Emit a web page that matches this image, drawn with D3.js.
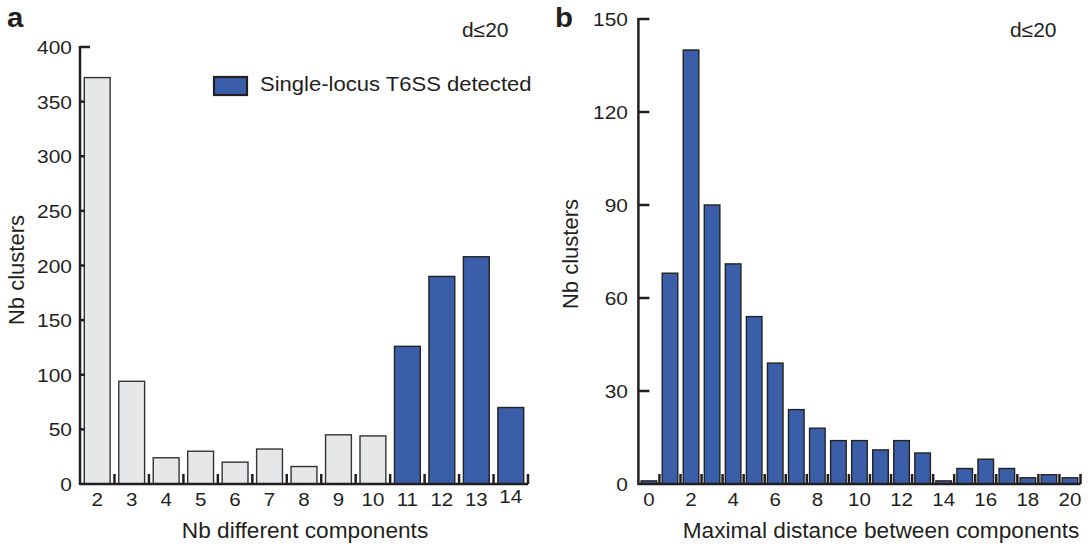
<!DOCTYPE html>
<html><head><meta charset="utf-8">
<script src="https://cdn.jsdelivr.net/npm/d3@7"></script>
<style>
html,body{margin:0;padding:0;background:#fff;}
text{font-family:"Liberation Sans",Arial,Helvetica,sans-serif;fill:#231f20;}
</style></head>
<body>
<svg id="chart" width="1090" height="544"></svg>
<script>
// ---- data ----
const categoriesA = ["2","3","4","5","6","7","8","9","10","11","12","13","14"];
const valuesA = [372, 94, 24, 30, 20, 32, 16, 45, 44, 126, 190, 208, 70];
const detectedA = [false,false,false,false,false,false,false,false,false,true,true,true,true];
const yTicksA = [0,50,100,150,200,250,300,350,400];

const categoriesB = ["0","1","2","3","4","5","6","7","8","9","10","11","12","13","14","15","16","17","18","19","20"];
const valuesB = [1, 68, 140, 90, 71, 54, 39, 24, 18, 14, 14, 11, 14, 10, 1, 5, 8, 5, 2, 3, 2];
const yTicksB = [0,30,60,90,120,150];
const xTickLabelsB = ["0","2","4","6","8","10","12","14","16","18","20"];

const legendLabel = "Single-locus T6SS detected";
const dLabel = "d\u226420";

// ---- style ----
const BLUE = "#3b5ea8", GRAY = "#e6e7e8", INK = "#231f20";
const svg = d3.select("#chart");

function txt(g, x, y, s, size, anchor, sx, weight) {
  return g.append("text")
    .attr("transform", `translate(${x},${y}) scale(${sx||1},1)`)
    .attr("text-anchor", anchor || "start")
    .attr("font-size", size)
    .attr("font-weight", weight || "normal")
    .text(s);
}

function panel(opts) {
  const g = svg.append("g");
  const x = d3.scaleBand().domain(opts.cats).range(opts.xr)
    .paddingInner(opts.pi).paddingOuter(opts.po);
  const y = d3.scaleLinear().domain([0, opts.ymax]).range(opts.yr);
  const step = x.step(), bw = x.bandwidth();

  // bars
  g.selectAll("rect.bar").data(opts.cats).join("rect")
    .attr("class","bar")
    .attr("x", d => x(d))
    .attr("width", bw)
    .attr("y", (d,i) => y(opts.vals[i]))
    .attr("height", (d,i) => y(0) - y(opts.vals[i]))
    .attr("fill", (d,i) => opts.fill(i))
    .attr("stroke", (d,i) => opts.stroke(i))
    .attr("stroke-width", 1.4);

  // x boundary ticks
  g.selectAll("line.xt").data(opts.cats).join("line")
    .attr("class","xt")
    .attr("x1", d => x(d) + bw + (step - bw)/2)
    .attr("x2", d => x(d) + bw + (step - bw)/2)
    .attr("y1", y(0)).attr("y2", y(0) - 10)
    .attr("stroke", INK).attr("stroke-width", 2.5);

  // axes lines
  g.append("line").attr("x1", opts.xr[0]).attr("x2", opts.xr[1])
    .attr("y1", y(0)).attr("y2", y(0)).attr("stroke", INK).attr("stroke-width", 2.5);
  g.append("line").attr("x1", opts.xr[0]).attr("x2", opts.xr[0])
    .attr("y1", y(0)+1).attr("y2", y(opts.ymax)-1).attr("stroke", INK).attr("stroke-width", 2.5);

  // y ticks
  opts.yticks.forEach(v => {
    const len = (v === opts.ymax) ? opts.topTick : opts.tickLen;
    if (v !== 0) {
      g.append("line").attr("x1", opts.xr[0]).attr("x2", opts.xr[0] + len)
        .attr("y1", y(v)).attr("y2", y(v)).attr("stroke", INK).attr("stroke-width", 2.5);
    }
    txt(g, opts.ylabX, y(v) + 7, String(v), 19, "end", 1.1);
  });

  // x labels
  opts.xlabels.forEach(c => {
    const dy = opts.xlabShift ? (opts.xlabShift[c] || 0) : 0;
    txt(g, x(c) + bw/2, 506 + dy, c, 19, "middle", 1.08);
  });

  // titles
  txt(g, opts.xtitleX, 538, opts.xtitle, 22, "middle", 1.03);
  g.append("text")
    .attr("transform", `translate(${opts.ytitleX},${opts.ytitleY}) rotate(-90)`)
    .attr("text-anchor","middle").attr("font-size", 22).text("Nb clusters");
  txt(g, opts.letterX, 27, opts.letter, 28, "start", 1.05, "bold");
  txt(g, opts.dX, 37, dLabel, 20, "start", 1.05);
  return g;
}

panel({
  cats: categoriesA, vals: valuesA, xr: [80, 528], pi: 0.25, po: 0.125,
  ymax: 400, yr: [484, 47], yticks: yTicksA, tickLen: 5, topTick: 10, ylabX: 72,
  fill: i => detectedA[i] ? BLUE : GRAY,
  stroke: i => detectedA[i] ? "#222" : "#333",
  xlabels: categoriesA, xlabShift: {"14": -3},
  xtitle: "Nb different components", xtitleX: 305,
  ytitleX: 24, ytitleY: 270, letter: "a", letterX: 7, dX: 462
});

panel({
  cats: categoriesB, vals: valuesB, xr: [638.4, 1080.5], pi: 0.26, po: 0.13,
  ymax: 150, yr: [484, 19], yticks: yTicksB, tickLen: 11, topTick: 11, ylabX: 628,
  fill: i => BLUE, stroke: i => "#222",
  xlabels: xTickLabelsB,
  xtitle: "Maximal distance between components", xtitleX: 881,
  ytitleX: 578, ytitleY: 254, letter: "b", letterX: 555, dX: 1010
});

// legend
const lg = svg.append("g");
lg.append("rect").attr("x", 214).attr("y", 77).attr("width", 33).attr("height", 18)
  .attr("fill", BLUE).attr("stroke", INK).attr("stroke-width", 2.2);
txt(lg, 260, 91, legendLabel, 21, "start", 1.05);
</script>
</body></html>
